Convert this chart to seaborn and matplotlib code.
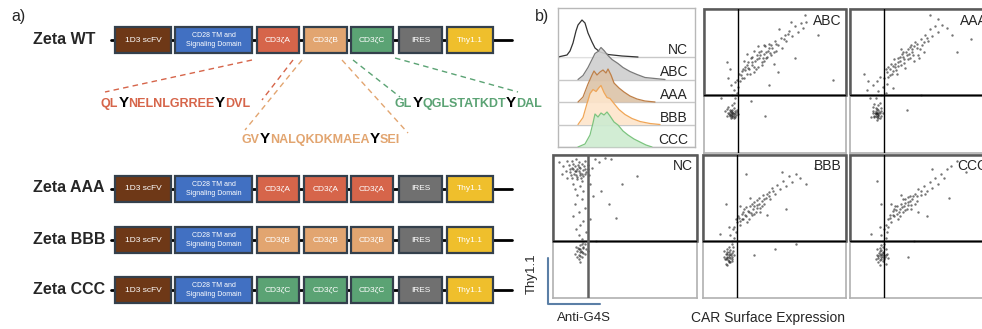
import re
import matplotlib
matplotlib.use('Agg')
import matplotlib.pyplot as plt
from matplotlib.patches import Rectangle
import numpy as np
import pandas as pd
import seaborn as sns

sns.set_theme(style='white')
plt.rcParams['font.family'] = ['Liberation Sans', 'DejaVu Sans']

## ---------------- data ----------------
constructs = ['Zeta WT', 'Zeta AAA', 'Zeta BBB', 'Zeta CCC']
zeta_domains = [['A', 'B', 'C'], ['A', 'A', 'A'], ['B', 'B', 'B'], ['C', 'C', 'C']]
motif_seqs = {'A': 'QLYNELNLGRREEYDVL', 'B': 'GVYNALQKDKMAEAYSEI', 'C': 'GLYQGLSTATKDTYDAL'}

# histogram ridges (anti-G4S), x = channel, h = relative height
samples = ['NC', 'ABC', 'AAA', 'BBB', 'CCC']
hist_x = {
    'NC':  [0, 9, 12, 15, 18, 20, 24, 27, 30, 34, 37, 42, 50, 64, 80],
    'ABC': [20, 25, 30, 34, 37, 40, 43, 46, 50, 54, 60, 65, 72, 79, 87, 97, 107],
    'AAA': [20, 25, 30, 34, 36, 39, 42, 45, 48, 50, 53, 56, 61, 66, 72, 79, 87, 97],
    'BBB': [20, 25, 29, 32, 35, 38, 41, 43, 46, 49, 52, 56, 61, 67, 74, 82, 92, 102],
    'CCC': [20, 27, 32, 35, 37, 40, 43, 46, 49, 52, 56, 60, 65, 70, 76, 82, 88, 94],
}
hist_h = {
    'NC':  [0, 2, 6, 14, 26, 32, 37, 34, 24, 15, 9, 5, 2.5, 1, 0],
    'ABC': [0, 4, 12, 20, 26, 28, 32, 29, 24, 20, 16, 12, 8, 5, 2, 1, 0],
    'AAA': [0, 5, 18, 27, 31, 27, 30, 32, 29, 33, 27, 19, 14, 10, 6, 3, 1, 0],
    'BBB': [0, 7, 21, 31, 35, 33, 37, 39, 32, 27, 26, 21, 15, 10, 6, 3, 1, 0],
    'CCC': [0, 3, 12, 24, 33, 30, 34, 32, 35, 31, 25, 22, 16, 12, 8, 5, 2, 0],
}

# flow dot plots: (anti-G4S, Thy1.1) per sample
dots_ABC = [(18,26),(19,27),(20,25),(21,27),(20,28),(19,29),(21,26),(22,28),(17,28),(18,30),
            (20,30),(22,25),(16,26),(23,30),(19,24),(21,31),(17,32),(24,27),(15,29),(20,33),
            (18.5,26.5),(19.5,25.5),(20.5,27.5),(19.5,28.5),(21.5,29),(17.5,27),(20,26.5),
            (22.5,26.5),(18,28.5),(21,24),(16.5,30.5),(23.5,28.5),
            (21,35),(22,38),(20,40),(23,42),(21,44),(24,46),(19,47),(22,49),(17,52),(18,58),(16,63),
            (25,50),(26,54),(27,57),(28,52),(29,60),(30,55),(31,63),(32,58),(33,66),(34,61),(35,56),
            (36,64),(37,68),(38,60),(39,66),(40,71),(41,63),(42,69),(43,74),(44,66),(45,71),(46,76),
            (47,68),(48,73),(50,78),(51,71),(52,75),(54,80),(55,73),(57,82),(58,78),(60,85),(62,81),
            (64,88),(66,84),(68,90),(70,87),(72,91),(61,91),(53,86),(49,62),(38,74),(30,69),
            (27.5,58),(30.5,61),(33.5,63),(35.5,60),(37.5,65),(39.5,68),(41.5,66),(43.5,70),
            (45.5,73),(34,67),(31,59),(29,57.5),(42,75),(47.5,75),(49,70),(38.5,70),(36.5,58),
            (44.5,67),(26.5,52),(40.5,61),(32.5,55),(28.5,64),(50.5,76),(56,79.5),(59,82.5),
            (46.5,69.5),(24.5,55),(23,51),(35,70.5),(42.5,64)]
dots_ABC += [(46,47),(91,51),(43,26),(33,36),(64,66),(52,56),(80,82),(12,38),(71,96)]
dots_AAA = [(17,26),(18,27),(19,25),(20,27),(19,28),(18,29),(20,26),(21,28),(16,28),(18,31),
            (20,30),(21,24),(15,25),(22,31),(19,23),(20,33),(16,32),(23,28),(17,34),(21,35),
            (17.5,27.5),(18.5,25.5),(19.5,26.5),(20.5,28.5),(18,28),(19,30.5),(17,25),(21.5,26),
            (19,27.5),(16.5,29.5),(22,29),(20,24.5),
            (14,38),(18,38),(22,40),(12,44),(20,43),(25,42),(16,47),(23,46),(13,50),(19,50),(26,48),(21,53),
            (24,52),(26,56),(27,60),(28,54),(29,62),(30,57),(31,65),(32,60),(33,55),(34,63),(35,67),
            (36,61),(37,70),(38,65),(39,59),(40,68),(41,72),(42,66),(43,75),(44,70),(46,77),(47,73),
            (48,68),(50,79),(51,75),(53,82),(55,78),(56,86),(58,81),(60,88),(62,84),(65,89),(68,87),
            (52,70),(45,64),(36,72),
            (28.5,58),(31.5,62),(33.5,66),(35.5,64),(37.5,67),(39.5,70),(41.5,69),(43.5,72),
            (30,60.5),(34,60.5),(38,62.5),(42,73.5),(45,74),(47.5,76),(49,72),(27,53),(25,58),
            (40.5,65),(36.5,68.5),(32.5,57.5),(44.5,68),(29.5,55),(52,77),(54.5,80),(48.5,66)]
dots_AAA += [(56,96),(72,82),(40,30),(50,40),(75,70),(30,45),(62,93),(85,79),(10,55)]
dots_NC = [(12,88),(14,90),(16,86),(18,89),(20,87),(13,84),(15,92),(17,83),(19,91),(21,85),
           (22,90),(11,93),(14,80),(18,95),(20,82),(23,88),(9,89),(16,97),(24,93),(13,96),
           (10,84),(25,86),(7,92),(19,78),(22,96),(27,91),(29,97),(32,95),(36,98),(40,97),
           (4,95),(6,87),(26,80),(15,76),(21,75),
           (15,88.5),(17,90.5),(19,87.5),(13.5,91),(16.5,84.5),(18.5,86),(20.5,89.5),(14.5,86.5),
           (17.5,93),(21.5,92),(12.5,86),(19.5,84),(16,89),(18,91.5),(22.5,86.5),(11.5,90),
           (14,94),(20,93.5),(24,90),(10,96),
           (17,72),(20,69),(15,66),(22,63),(18,60),(14,57),(21,54),(19,51),(16,48),(23,46),(18,44),
           (19,34),(20,32),(18,30),(21,35),(19,37),(17,33),(22,31),(20,29),(18,27),(21,39),
           (16,36),(23,34),(19,25),(20,41),(17,29),(22,38),(24,33),(15,31),
           (19.5,33),(20.5,35.5),(18.5,32),(21,31.5),(19,29.5),(17.5,35),(20,37.5),(18,34.5)]
dots_NC += [(48,80),(58,85),(44,56),(39,66),(33,75),(28,71),(30,40),(26,55)]
dots_BBB = [(16,27),(17,29),(18,26),(19,28),(18,30),(17,32),(19,25),(20,29),(15,29),(17,34),
            (19,31),(20,26),(16,24),(21,33),(18,36),(20,38),(15,33),(22,30),(17,23),(21,36),
            (16.5,28),(17.5,26.5),(18.5,28.5),(19.5,30),(17,30.5),(18,32.5),(16,31),(20,27.5),
            (18.5,25),(19,33.5),(15.5,27),(20.5,31.5),
            (20,40),(22,42),(19,44),(23,46),(21,48),(18,50),
            (22,50),(24,53),(25,56),(26,51),(27,59),(28,55),(29,62),(30,57),(31,53),(32,60),
            (33,64),(34,58),(35,62),(36,67),(37,60),(38,65),(39,70),(40,63),(41,68),(42,72),
            (43,66),(44,70),(46,74),(47,69),(48,77),(50,73),(52,79),(54,76),(56,82),(58,78),
            (60,85),(62,81),(65,87),(68,84),(45,58),(33,70),(26,64),(55,88),
            (27.5,55),(29.5,58),(31.5,61),(33.5,59.5),(35.5,64),(37.5,63),(39.5,66),(41.5,64.5),
            (30,63.5),(34,66),(38,68.5),(42.5,69),(36,59),(28,60),(24.5,57),(44.5,72.5),
            (32,55.5),(40,60),(46.5,71),(49,75),(26,53.5),(23,55)]
dots_BBB += [(16,66),(30,87),(72,80),(65,38),(36,30),(50,34),(12,45),(78,91),(58,62)]
dots_CCC = [(20,28),(21,30),(22,27),(23,29),(22,31),(21,33),(23,26),(24,30),(19,30),(21,35),
            (23,32),(24,27),(20,25),(25,34),(22,37),(24,38),(19,34),(26,31),(21,23),(18,27),(27,28),(25,24),
            (21.5,28.5),(22.5,30),(23.5,31.5),(20.5,31.5),(22,33.5),(24.5,28.5),(21,26.5),
            (23,35.5),(20,29.5),(25.5,30),
            (23,40),(25,42),(22,44),(26,46),(24,48),(21,50),
            (25,51),(27,55),(28,58),(29,53),(30,61),(31,57),(32,64),(33,59),(34,55),(35,62),
            (36,66),(37,60),(38,64),(39,69),(40,62),(41,67),(42,71),(43,65),(44,69),(46,73),
            (47,68),(48,76),(50,72),(52,78),(54,75),(56,81),(58,77),(60,84),(62,80),(64,87),
            (66,84),(68,90),(71,92),(48,60),(36,72),(29,66),(58,90),
            (30.5,58),(32.5,61.5),(34.5,60),(36.5,63.5),(38.5,66.5),(40.5,65),(42.5,68),(44.5,71.5),
            (33,64.5),(37,69),(41,70.5),(35,57.5),(39,61.5),(31,62.5),(28,56),(45.5,66),
            (47,71),(50,75),(53,73),(26.5,50),(43,62)]
dots_CCC += [(19,82),(22,66),(41,29),(54,57),(75,96),(15,45),(70,70),(45,40),(82,88)]
dot_gate_x = 24
dot_gate_y = 40

## ---------------- figure ----------------
W, H = 982, 329
fig = plt.figure(figsize=(W / 100, H / 100), dpi=100)
ax0 = fig.add_axes([0, 0, 1, 1])
ax0.set_xlim(0, W)
ax0.set_ylim(H, 0)
ax0.axis('off')
renderer = fig.canvas.get_renderer()

def px_axes(x0, y0, x1, y1):
    return fig.add_axes([x0 / W, 1 - y1 / H, (x1 - x0) / W, (y1 - y0) / H])

## panel a: constructs
box_lefts = [115, 175, 257, 304, 351, 399, 447]
box_widths = [56, 77, 42, 43, 42, 43, 46]
row_y = [40, 189, 240, 290]
box_h = 26
zeta_col = {'A': '#d6654a', 'B': '#e2a570', 'C': '#5ba374'}
fixed = [('1D3 scFV', '#6e3817'), ('CD28 TM and\nSignaling Domain', '#4170c2')]
tail = [('IRES', '#707070'), ('Thy1.1', '#efbf2c')]

ax0.text(11, 17, 'a)', fontsize=11.5, va='center')
ax0.text(535, 17, 'b)', fontsize=11.5, va='center')

for name, doms, yc in zip(constructs, zeta_domains, row_y):
    ax0.text(33, yc - 1, name, fontsize=11.5, fontweight='bold', va='center', ha='left')
    ax0.plot([111, 512], [yc, yc], color='black', lw=2, zorder=1)
    parts = fixed + [('CD3ζ' + d, zeta_col[d]) for d in doms] + tail
    for (lab, col), xl, w in zip(parts, box_lefts, box_widths):
        ax0.add_patch(Rectangle((xl, yc - box_h / 2), w, box_h, facecolor=col,
                                edgecolor='#34404c', lw=1.6, zorder=2))
        fs = 5 if '\n' in lab else 6
        ax0.text(xl + w / 2, yc, lab, color='white', fontsize=fs, ha='center',
                 va='center', linespacing=1.5, zorder=3)

# dashed connectors from WT row to motif sequences
connectors = [('A', (252, 60), (105, 92)), ('A', (293, 60), (262, 100)),
              ('B', (302, 60), (245, 130)), ('B', (342, 60), (408, 133)),
              ('C', (353, 60), (400, 97)), ('C', (395, 58), (518, 92))]
for d, p0, p1 in connectors:
    ax0.plot([p0[0], p1[0]], [p0[1], p1[1]], color=zeta_col[d], lw=1,
             dashes=(4, 3))

def seq_text(x, y, seq, color):
    for part in re.findall(r'Y|[^Y]+', seq):
        isy = part == 'Y'
        t = ax0.text(x, y, part, color='black' if isy else color,
                     fontsize=11 if isy else 9, fontweight='bold',
                     va='baseline', ha='left')
        x += t.get_window_extent(renderer=renderer).width

seq_pos = {'A': (101, 107), 'B': (242, 143), 'C': (395, 107)}
for d, (sx, sy) in seq_pos.items():
    seq_text(sx, sy, motif_seqs[d], zeta_col[d])

## panel b: histograms
axh = px_axes(558, 8, 695, 147)
axh.set_xlim(0, 137)
axh.set_ylim(0, 139)
axh.set_xticks([])
axh.set_yticks([])
for s in axh.spines.values():
    s.set_color('#b8b8b8')
    s.set_linewidth(1)
fill_col = {'NC': 'white', 'ABC': '#cfcfcf', 'AAA': '#dcc3a8', 'BBB': '#fde5cb', 'CCC': '#cdebd0'}
line_col = {'NC': '#333333', 'ABC': '#7a7a7a', 'AAA': '#bf8048', 'BBB': '#f0a657', 'CCC': '#7cc47f'}
for i, smp in enumerate(samples):
    base = (4 - i) * 22.5
    xs = np.array(hist_x[smp], dtype=float)
    ys = base + np.array(hist_h[smp], dtype=float)
    axh.axhline(base, color='#c8c8c8', lw=1, zorder=2 * i + 1)
    axh.fill_between(xs, base, ys, color=fill_col[smp], alpha=0.9, lw=0, zorder=2 * i + 1)
    sns.lineplot(x=xs, y=ys, color=line_col[smp], lw=0.9, ax=axh, sort=False,
                 estimator=None, zorder=2 * i + 2)
    axh.text(130, base + 7, smp, fontsize=10, ha='right', va='center', zorder=20)

## panel b: dot plots
dot_panels = [('ABC', dots_ABC, (704, 9, 846, 153)),
              ('AAA', dots_AAA, (850, 9, 992, 153)),
              ('NC', dots_NC, (553, 155, 697, 298)),
              ('BBB', dots_BBB, (703, 155, 846, 298)),
              ('CCC', dots_CCC, (850, 155, 992, 298))]
for lab, pts, box in dot_panels:
    ax = px_axes(*box)
    df = pd.DataFrame(pts, columns=['g4s', 'thy'])
    sns.scatterplot(data=df, x='g4s', y='thy', s=3, color='#1a1a1a', linewidth=0,
                    alpha=0.6, ax=ax)
    ax.set_xlim(0, 100)
    ax.set_ylim(0, 100)
    ax.set_xticks([])
    ax.set_yticks([])
    ax.set_xlabel('')
    ax.set_ylabel('')
    for s in ax.spines.values():
        s.set_color('#b0b0b0')
        s.set_linewidth(1.2)
    ax.add_patch(Rectangle((0, dot_gate_y), 100, 100 - dot_gate_y, fill=False,
                           ec='#5a5a5a', lw=1.8, clip_on=False, zorder=3))
    ax.axhline(dot_gate_y, color='black', lw=1, zorder=4)
    if lab == 'NC':
        ax.axvline(dot_gate_x, color='#606060', lw=1.8, zorder=4)
    else:
        ax.axvline(dot_gate_x, color='black', lw=1, zorder=4)
    ax.text(97, 92, lab, fontsize=10, ha='right', va='center', zorder=5)

# axis indicator
ax0.plot([548, 548, 600], [258, 304, 304], color='#5b7fa6', lw=1.5)
ax0.text(532, 274, 'Thy1.1', fontsize=9.5, rotation=90, ha='center', va='center')
ax0.text(557, 318, 'Anti-G4S', fontsize=9.5, ha='left', va='center')
ax0.text(768, 318, 'CAR Surface Expression', fontsize=10, ha='center', va='center')

fig.savefig('out.png', dpi=100)
